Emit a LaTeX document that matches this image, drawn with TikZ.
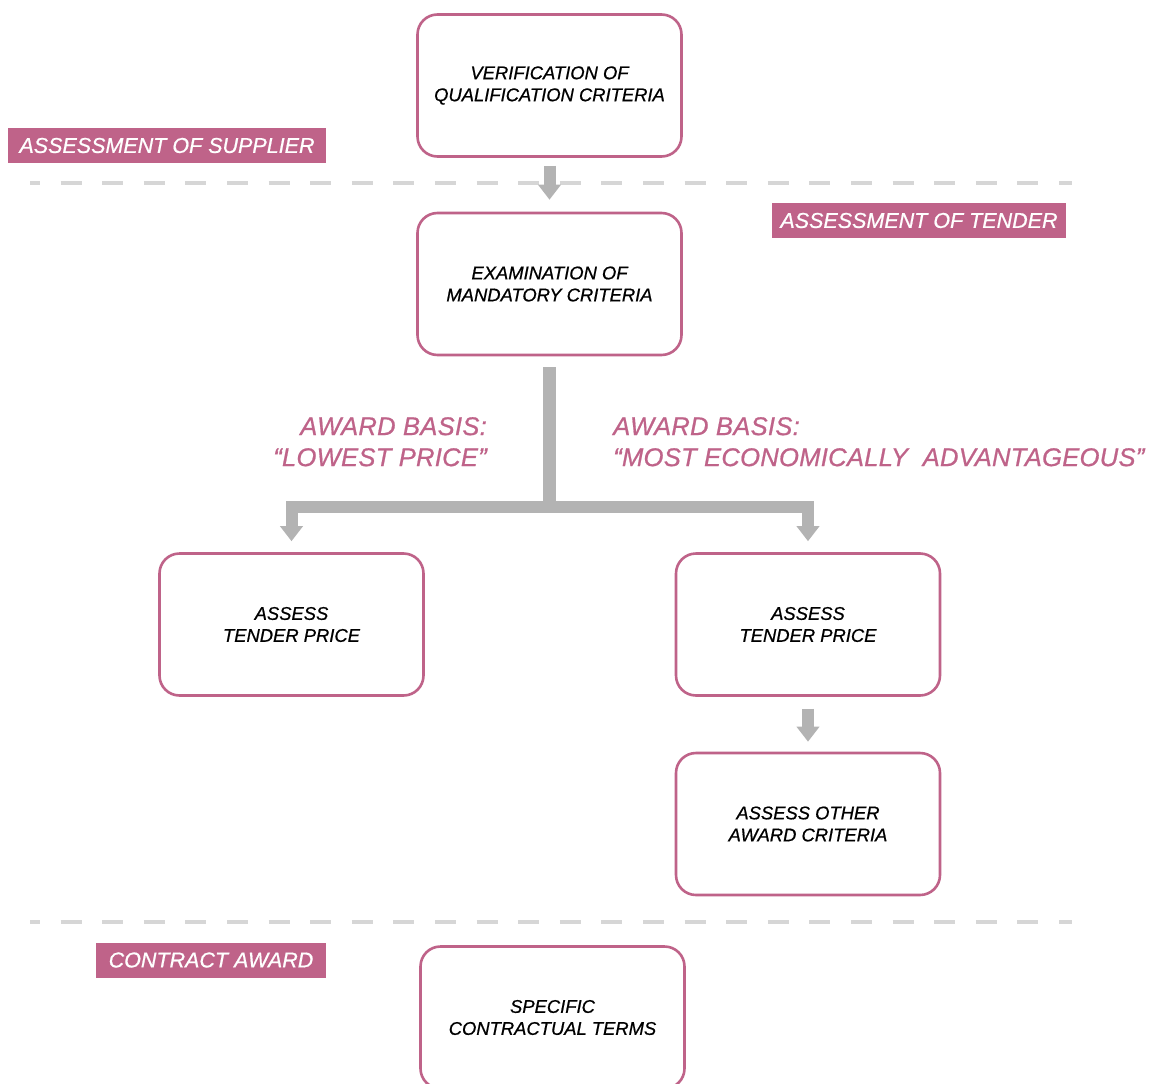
\documentclass[tikz,border=0pt]{standalone}
\usepackage{fontspec}
\setmainfont{Liberation Sans}
\newfontfamily\medit{Liberation Sans}[FakeBold=0.7]
\newfontfamily\meditwide{Liberation Sans}[FakeBold=0.7, LetterSpace=1.0]
\usetikzlibrary{arrows.meta}
\definecolor{pinkb}{HTML}{BF6389}
\definecolor{arrowgray}{HTML}{B3B3B3}
\definecolor{dashgray}{HTML}{D6D6D6}
\tikzset{
  stepbox/.style={draw=pinkb, line width=2.6pt, rounded corners=20pt, fill=white,
    minimum width=264pt, minimum height=142pt, align=center, inner sep=0pt,
    font=\medit\fontsize{18.4}{22}\selectfont\itshape},
  tagbox/.style={fill=pinkb, text=white, inner sep=0pt, minimum height=35pt,
    font=\medit\fontsize{21.5}{24}\selectfont\itshape},
  basistxt/.style={text=pinkb, inner sep=0pt, font=\meditwide\fontsize{25.6}{31}\selectfont\itshape},
  grayarrow/.style={draw=arrowgray, line width=12pt, -{Triangle[width=22pt,length=15pt]}},
  grayline/.style={draw=arrowgray, line width=13pt},
  dashline/.style={draw=dashgray, line width=4pt, dash pattern=on 21pt off 20.6pt, dash phase=11pt}
}
\begin{document}
\begin{tikzpicture}[x=1pt,y=-1pt]
\useasboundingbox[fill=white] (0,0) rectangle (1162,1084);

% dashed separators
\draw[dashline] (30,183) -- (1072,183);
\draw[dashline] (30,922) -- (1072,922);

% boxes
\node[stepbox] (ver) at (549.5,85.5) {VERIFICATION OF\\QUALIFICATION CRITERIA};
\node[stepbox] (ex) at (549.5,284) {EXAMINATION OF\\MANDATORY CRITERIA};
\node[stepbox] (lp) at (291.5,624.5) {ASSESS\\TENDER PRICE};
\node[stepbox] (rp) at (808,624.5) {ASSESS\\TENDER PRICE};
\node[stepbox] (oth) at (808,824) {ASSESS OTHER\\AWARD CRITERIA};
\node[stepbox] (spec) at (552.5,1017.5) {SPECIFIC\\CONTRACTUAL TERMS};

% tags
\node[tagbox, minimum width=318pt] (tsup) at (167,145.5) {ASSESSMENT OF SUPPLIER};
\node[tagbox, minimum width=294pt] (tten) at (919,220.5) {ASSESSMENT OF TENDER};
\node[tagbox, minimum width=230pt] (tcon) at (211,960) {CONTRACT AWARD};

% award basis texts
\node[basistxt, anchor=north east, align=right] (bl) at (487,417) {AWARD BASIS:\\“LOWEST PRICE”};
\node[basistxt, anchor=north west, align=left] (br) at (613,417) {AWARD BASIS:\\“MOST ECONOMICALLY\ \ ADVANTAGEOUS”};

% arrows
\draw[grayarrow, shorten <=8pt, shorten >=12pt] (ver.south) -- (ex.north);
\coordinate (j) at (549.5,506.5);
\draw[grayline, shorten <=11pt] (ex.south) -- (j);
\draw[grayarrow, line join=miter, shorten >=11pt] (j) -| (lp.north);
\draw[grayarrow, line join=miter, shorten >=11pt] (j) -| (rp.north);
\draw[grayarrow, shorten <=12pt, shorten >=10pt] (rp.south) -- (oth.north);
\end{tikzpicture}
\end{document}
